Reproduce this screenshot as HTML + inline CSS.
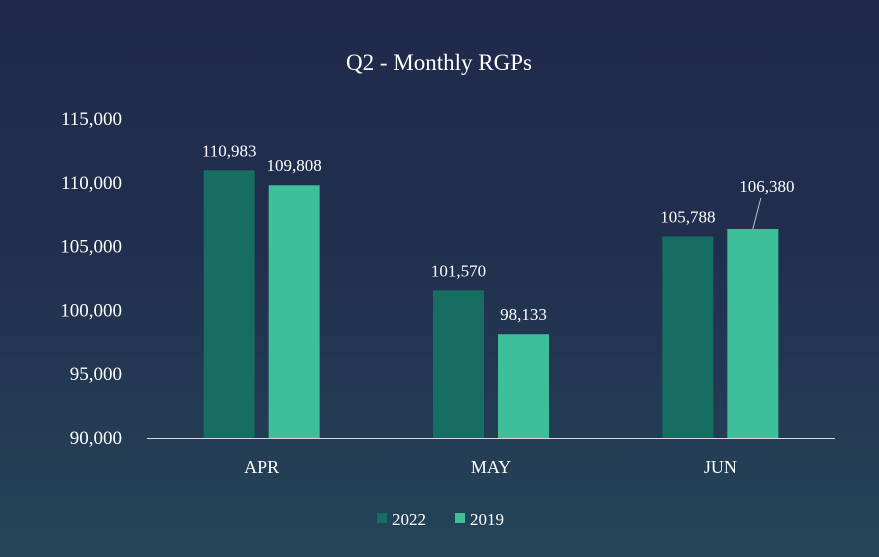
<!DOCTYPE html>
<html><head><meta charset="utf-8"><style>
html,body{margin:0;padding:0;width:879px;height:557px;overflow:hidden}
body{background:linear-gradient(180deg,#1f2a4b 0%,#212f4e 45%,#254558 100%);font-family:"Liberation Serif",serif;}
svg{display:block}
</style></head><body>
<svg id="chart" width="879" height="557" xmlns="http://www.w3.org/2000/svg" font-family="Liberation Serif, serif">
<text x="439" y="70" text-anchor="middle" fill="#ffffff" font-size="23">Q2 - Monthly RGPs</text>
<g id="axes"></g><g id="bars"></g><g id="labels"></g>
<g>
<rect x="377" y="513" width="10" height="10" fill="#166e62"/>
<text x="392" y="525" fill="#fff" font-size="17">2022</text>
<rect x="455" y="513" width="10" height="10" fill="#3dbf9a"/>
<text x="470" y="525" fill="#fff" font-size="17">2019</text>
</g>
</svg>
<script>
const categories=["APR","MAY","JUN"];
const series2022=[110983,101570,105788];
const series2019=[109808,98133,106380];
const yTicks=[90000,95000,100000,105000,110000,115000];
const NS="http://www.w3.org/2000/svg";
const x0=147,x1=835,yMin=90000,yMax=115000,py0=438,py1=119;
function y(v){return py0-(v-yMin)/(yMax-yMin)*(py0-py1);}
const band=(x1-x0)/categories.length;
function cx(i){return x0+band*(i+0.5);}
function mk(tag,attrs,parent){const e=document.createElementNS(NS,tag);for(const k in attrs)e.setAttribute(k,attrs[k]);document.getElementById(parent).appendChild(e);return e;}
const fmt=v=>v.toLocaleString("en-US");
yTicks.forEach(t=>{
 const e=mk("text",{x:122,y:y(t)+6,"text-anchor":"end",fill:"#fff","font-size":"19"},"axes");
 e.textContent=fmt(t);
 
 
});
const ax=mk("line",{x1:x0,x2:x1,y1:py0+0.5,y2:py0+0.5,stroke:"#d9d9d9","stroke-width":1},"axes");


const bw=51,gap=14;
categories.forEach((c,i)=>{
 const t=mk("text",{x:cx(i),y:473,"text-anchor":"middle",fill:"#fff","font-size":"18"},"axes");
 t.textContent=c;
 
 
 [[series2022,"#166e62",-1],[series2019,"#3dbf9a",1]].forEach(([s,col,side],k)=>{
  const v=s[i];
  const bx=side<0?cx(i)-gap/2-bw:cx(i)+gap/2;
  const r=mk("rect",{x:bx,y:y(v),width:bw,height:py0-y(v),fill:col},"bars");
  
  
  let lx=bx+bw/2,ly=y(v)-14;
  if(i===2&&k===1){lx+=14;ly=y(v)-37;
   const l=mk("line",{x1:lx-6,y1:ly+6,x2:bx+bw/2,y2:y(v),stroke:"#bfbfbf","stroke-width":1},"labels");
   
   }
  const lt=mk("text",{x:lx,y:ly,"text-anchor":"middle",fill:"#fff","font-size":"17"},"labels");
  lt.textContent=fmt(v);
  
  
 });
});
</script>
</body></html>
